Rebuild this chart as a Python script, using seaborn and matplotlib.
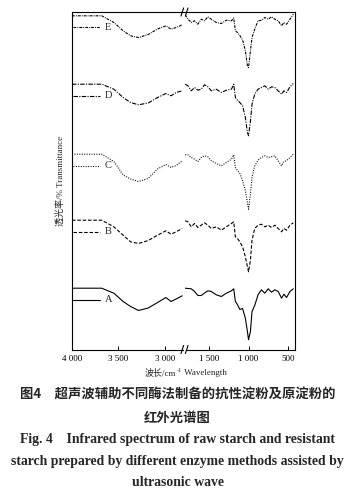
import numpy as np
import pandas as pd
import matplotlib
matplotlib.use("Agg")
import matplotlib.pyplot as plt
import seaborn as sns

sns.set_style("ticks")
plt.rcParams["font.family"] = ["Liberation Serif", "Noto Sans CJK SC", "DejaVu Sans"]

# ---------------- data ----------------
samples = ["A", "B", "C", "D", "E"]

wn_left = [4000, 3850, 3680, 3550, 3450, 3370, 3285, 3180, 3080, 2990, 2935, 2880, 2815]
wn_right = [1800, 1764, 1723, 1681, 1639, 1597, 1555, 1513, 1470, 1407, 1343, 1280,
            1216, 1187, 1166, 1140, 1110, 1075, 1040, 1014, 1000, 976, 956, 922,
            880, 837, 795, 752, 710, 668, 626, 583, 554, 520, 477, 435]

A_left = [61.3, 61.3, 61.3, 56.3, 48, 43, 39, 41.5, 47, 52, 48, 50.5, 53.7]
A_right = [61.3, 61, 60.7, 58, 54, 54, 56.5, 58.7, 58, 54.7, 53, 56.3, 58.7, 60.7,
           48, 45, 40, 41, 31.3, 18, 9.7, 18, 38, 44, 54.7, 59.7, 56.3, 60.7, 57.3,
           59.7, 58, 51.3, 55.3, 52, 58, 60.7]

B_left = [129.3, 129.3, 129.3, 122.7, 114.3, 107.7, 106, 109, 114.3, 118.7, 115.3, 117.7, 121]
B_right = [128.7, 127.7, 122.7, 126, 122, 124.3, 126.7, 124.3, 121, 122.7, 119.3, 122.7,
           126, 127.7, 112.7, 111, 107.7, 102.7, 92.7, 82.7, 77.7, 89.3, 109.3, 121,
           124.3, 125.3, 122.7, 124.3, 122, 124.3, 121, 117.7, 121, 119.3, 124.3, 126.7]

C_left = [195.3, 195.3, 195.3, 188, 174.5, 170.5, 168, 171, 180.5, 185, 182, 184, 188.7]
C_right = [194.7, 194.7, 192, 190.3, 188, 192, 193.7, 192.7, 188.7, 186, 183.7, 187,
           190.3, 194.7, 182, 179, 176, 169, 159, 147, 140.3, 155.3, 172, 183.7,
           189.3, 192, 193.7, 192, 192.7, 193.7, 188.7, 183.7, 188, 188.7, 192, 195.3]

D_left = [265.3, 265.3, 265.3, 260.3, 252, 247, 244.7, 246.5, 252, 256, 253.7, 257, 258.7]
D_right = [265.3, 263.7, 258.7, 262, 259.3, 260.3, 264.7, 262.7, 258.7, 260.3, 257, 259.3,
           260.3, 265.3, 252, 249.3, 247, 243.7, 232, 217, 213.7, 228.7, 245.3, 255.3,
           260.3, 262, 263.7, 260.3, 262.7, 262, 258.7, 255.3, 258.7, 257, 262.7, 266]

E_left = [333.7, 333.7, 333.7, 327, 318.7, 313.7, 312, 315, 320.5, 323.7, 320.3, 322, 324.7]
E_right = [334.7, 330.3, 327, 328.7, 325.3, 330.3, 328.7, 332.7, 330.3, 327, 326, 329.3,
           328.7, 331.5, 318.7, 317, 314, 309.5, 298.7, 283.7, 282, 298.7, 312, 320.3,
           328.7, 329.3, 332, 330.3, 332.7, 330.3, 328.7, 323.7, 327, 325.3, 330.3, 335.3]

left_ticks = [4000, 3500, 3000]
left_ticklabels = ["4 000", "3 500", "3 000"]
right_ticks = [1500, 1000, 500]
right_ticklabels = ["1 500", "1 000", "500"]

xlabel_a = "波长/cm"
xlabel_sup = "-1"
xlabel_b = " Wavelength"
ylabel = "透光率/% Transmittance"
cap_cn1 = "图4　超声波辅助不同酶法制备的抗性淀粉及原淀粉的"
cap_cn2 = "红外光谱图"
cap_en1 = "Fig. 4　Infrared spectrum of raw starch and resistant"
cap_en2 = "starch prepared by different enzyme methods assisted by"
cap_en3 = "ultrasonic wave"

left_vals = {"A": A_left, "B": B_left, "C": C_left, "D": D_left, "E": E_left}
right_vals = {"A": A_right, "B": B_right, "C": C_right, "D": D_right, "E": E_right}

styles = {
    "A": "-",
    "B": (0, (3.2, 1.6)),
    "C": (0, (0.9, 1.3)),
    "D": (0, (4, 1.2, 1, 1.2)),
    "E": (0, (2.5, 1, 0.8, 1)),
}

df_left = pd.concat([pd.DataFrame({"wn": wn_left, "T": left_vals[s], "sample": s}) for s in samples])
df_right = pd.concat([pd.DataFrame({"wn": wn_right, "T": right_vals[s], "sample": s}) for s in samples])

# ---------------- figure ----------------
W, H = 355, 495
fig = plt.figure(figsize=(W / 100, H / 100), dpi=100)
bottom = 1 - 349.5 / H
height = (349.5 - 12) / H
axL = fig.add_axes([72 / W, bottom, (184.5 - 72) / W, height])
axR = fig.add_axes([184.5 / W, bottom, (294.5 - 184.5) / W, height])

for s in samples:
    sns.lineplot(data=df_left[df_left["sample"] == s], x="wn", y="T", ax=axL,
                 color="black", linewidth=0.8, linestyle=styles[s],
                 estimator=None, sort=False, legend=False)
    sns.lineplot(data=df_right[df_right["sample"] == s], x="wn", y="T", ax=axR,
                 color="black", linewidth=0.8, linestyle=styles[s],
                 estimator=None, sort=False, legend=False)

ylim = (0, 337.5)
for ax in (axL, axR):
    ax.set_ylim(*ylim)
    ax.set_yticks([])
    ax.set_xlabel("")
    ax.set_ylabel("")
    for sp in ax.spines.values():
        sp.set_linewidth(0.8)
        sp.set_color("black")
    ax.tick_params(axis="x", direction="in", length=3, width=0.7, pad=4,
                   labelsize=6.5, colors="black", top=False)

axL.set_xlim(4000, 2790)
axR.set_xlim(1808, 420)
axL.spines["right"].set_visible(False)
axR.spines["left"].set_visible(False)
axL.spines["bottom"].set_bounds(4000, 2810)
axR.spines["bottom"].set_bounds(1775, 420)

axL.set_xticks(left_ticks)
axL.set_xticklabels(left_ticklabels)
axR.set_xticks(right_ticks)
axR.set_xticklabels(right_ticklabels)

# sample labels with short line keys
for s in samples:
    base = left_vals[s][0] - 11.5
    axL.plot([3985, 3700], [base, base], color="black", linewidth=0.8, linestyle=styles[s])
    axL.text(3650, base, s, fontsize=7.5, va="center", ha="left",
             family="Liberation Serif")

# break marks
for yy in (0.0, 1.0):
    for dx in (-0.02, 0.02):
        axR.plot([dx - 0.012, dx + 0.012], [yy - 0.012, yy + 0.012],
                 transform=axR.transAxes, color="black", linewidth=0.8, clip_on=False)

# x label composed of pieces (CJK + superscript)
lab_fam = ["Liberation Serif", "Noto Sans CJK SC"]
t1 = fig.text(145 / W, 1 - 373 / H, xlabel_a, ha="left", va="center", fontsize=6.5,
              family=lab_fam)
fig.canvas.draw()
bb = t1.get_window_extent()
t2 = fig.text(bb.x1 / W / 1.0 + 0.001, 1 - 370 / H, xlabel_sup, ha="left", va="center",
              fontsize=4.5, family=lab_fam)
fig.canvas.draw()
bb2 = t2.get_window_extent()
fig.text(bb2.x1 / W, 1 - 373 / H, xlabel_b, ha="left", va="center", fontsize=6.5,
         family=lab_fam)

fig.text(60 / W, 1 - 180.75 / H, ylabel, ha="center", va="center", fontsize=6.5,
         rotation=90, family=lab_fam)

cjk = ["Noto Sans CJK SC"]
fig.text(0.5, 1 - 395 / H, cap_cn1, ha="center", va="center", fontsize=9.6,
         fontweight="bold", family=cjk)
fig.text(0.5, 1 - 417.5 / H, cap_cn2, ha="center", va="center", fontsize=9.6,
         fontweight="bold", family=cjk)
ser = ["Liberation Serif", "Noto Sans CJK SC"]
fig.text(0.5, 1 - 440 / H, cap_en1, ha="center", va="center", fontsize=9.9,
         fontweight="bold", family=ser)
fig.text(0.5, 1 - 461 / H, cap_en2, ha="center", va="center", fontsize=9.9,
         fontweight="bold", family=ser)
fig.text(0.5, 1 - 482.5 / H, cap_en3, ha="center", va="center", fontsize=9.9,
         fontweight="bold", family=ser)

fig.savefig("out.png", dpi=100)
